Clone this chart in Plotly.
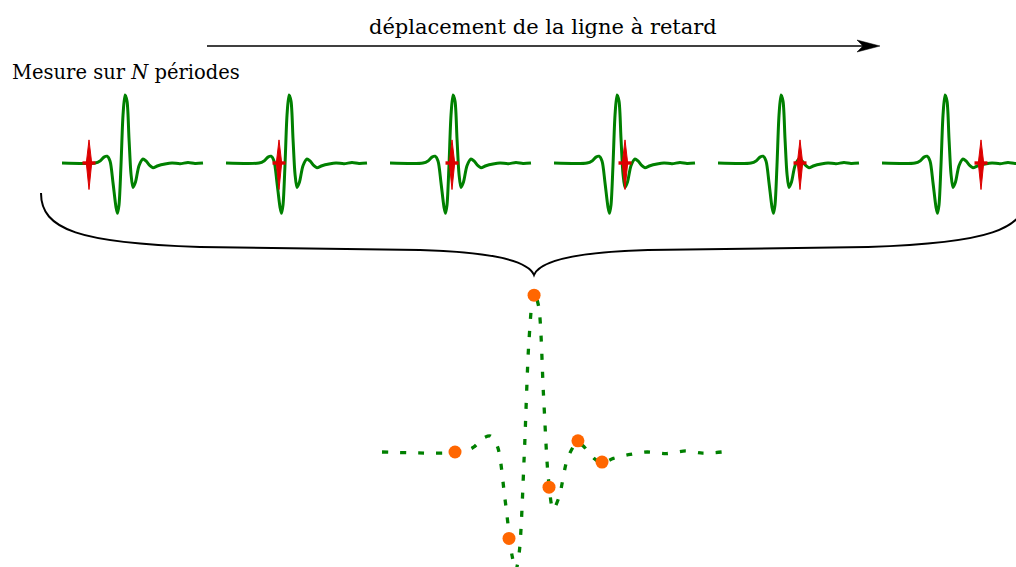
import plotly.graph_objects as go

# ---------------- data ----------------
# one recorded pulse (time in arbitrary units, normalised amplitude)
wave_t = [0.0, 3.3, 3.8, 4.2, 4.5, 4.8, 5.1, 5.4, 5.55, 5.7, 5.9, 6.1, 6.3, 6.5, 6.7,
          6.9, 7.1, 7.35, 7.7, 8.1, 8.4, 8.8, 9.1, 9.6, 10.3, 11.0, 11.8, 12.6, 13.3, 14.1]
wave_a = [0.0, 0.0, 0.03, 0.087, 0.10, 0.03, -0.29, -0.65, -0.74, -0.62, -0.03, 0.70, 1.0, 0.91, 0.36,
          -0.16, -0.36, -0.28, -0.04, 0.06, 0.03, -0.04, -0.07, -0.04, -0.015, 0.0, -0.01, 0.007, -0.007, 0.0]

n_periods = 6
period = 16.4                                     # repetition period (same units as wave_t)
sample_delay = [2.7, 5.3, 6.2, 7.1, 8.2, 9.9]      # delay of the sampling gate in each period

# reconstructed samples (orange dots)
sample_t = [3.03, 5.27, 6.31, 6.93, 8.13, 9.13]
sample_a = [0.0, -0.54, 0.98, -0.22, 0.07, -0.063]

title_text = "déplacement de la ligne à retard"
left_text = "Mesure sur <i>N</i> périodes"

# ---------------- styles / geometry ----------------
W, H = 1016, 567
GREEN = "#008000"
RED = "#dd0000"
ORANGE = "#ff6600"
FONT = "DejaVu Serif"


def px(x, y):
    return x / W, 1 - y / H


fig = go.Figure()

# top row: repeated pulses
xs, ys = [], []
for k in range(n_periods):
    xs += [k * period + t for t in wave_t] + [None]
    ys += list(wave_a) + [None]
fig.add_trace(go.Scatter(x=xs, y=ys, mode="lines",
                         line=dict(color=GREEN, width=3, shape="spline", smoothing=0.8),
                         xaxis="x", yaxis="y", hoverinfo="skip"))

# red sampling gates
for k, d in enumerate(sample_delay):
    t0 = k * period + d
    fig.add_trace(go.Scatter(x=[t0, t0 + 0.27, t0, t0 - 0.27, t0], y=[0.34, 0, -0.39, 0, 0.34],
                             mode="lines", fill="toself", fillcolor=RED, line=dict(color=RED, width=1),
                             xaxis="x", yaxis="y", hoverinfo="skip"))
    fig.add_trace(go.Scatter(x=[t0 - 0.65, t0 + 0.65], y=[0, 0], mode="lines",
                             line=dict(color=RED, width=3.4), xaxis="x", yaxis="y", hoverinfo="skip"))

# bottom: reconstructed pulse (dotted) and samples
fig.add_trace(go.Scatter(x=wave_t, y=wave_a, mode="lines",
                         line=dict(color=GREEN, width=3.3, shape="spline", smoothing=0.8, dash="6px,12px"),
                         xaxis="x2", yaxis="y2", hoverinfo="skip"))
fig.add_trace(go.Scatter(x=sample_t, y=sample_a, mode="markers",
                         marker=dict(color=ORANGE, size=13, line=dict(width=0)),
                         xaxis="x2", yaxis="y2", hoverinfo="skip"))

# axes (hidden) — top row: 10 px per unit, start at 62 px, baseline 163 px, 68 px per amplitude
ax_common = dict(visible=False, showgrid=False, zeroline=False, fixedrange=True)
top_x0, top_sx, top_y0, top_sy = 62, 10.0, 163, 68.0
bot_x0, bot_sx, bot_y0, bot_sy = 382, 24.1, 452, 160.0
fig.update_layout(
    xaxis=dict(domain=[0, 1], range=[-top_x0 / top_sx, (W - top_x0) / top_sx], **ax_common),
    yaxis=dict(domain=[0, 1], range=[(top_y0 - H) / top_sy, top_y0 / top_sy], **ax_common),
    xaxis2=dict(domain=[0, 1], range=[-bot_x0 / bot_sx, (W - bot_x0) / bot_sx], overlaying="x", **ax_common),
    yaxis2=dict(domain=[0, 1], range=[(bot_y0 - H) / bot_sy, bot_y0 / bot_sy], overlaying="y", **ax_common),
)

# brace
brace_pts = [("M", [(41, 193)]), ("C", [(41, 230), (80, 243), (200, 247)]), ("L", [(420, 250)]),
             ("C", [(490, 252), (528, 260), (534, 275)]), ("C", [(540, 260), (578, 252), (648, 250)]),
             ("L", [(868, 247)]), ("C", [(988, 243), (1027, 230), (1027, 193)])]
path = ""
for cmd, pts in brace_pts:
    path += cmd + " " + " ".join("%.5f,%.5f" % px(x, y) for x, y in pts) + " "
fig.add_shape(type="path", path=path, xref="paper", yref="paper", line=dict(color="black", width=2))

# arrow
ax0, ay0 = px(207, 46)
ax1, _ = px(864, 46)
fig.add_shape(type="line", x0=ax0, y0=ay0, x1=ax1, y1=ay0, xref="paper", yref="paper",
              line=dict(color="black", width=1.4))
head = [(857, 40), (880, 46), (857, 52), (863, 46)]
hp = "M " + " L ".join("%.5f,%.5f" % px(x, y) for x, y in head) + " Z"
fig.add_shape(type="path", path=hp, xref="paper", yref="paper", fillcolor="black",
              line=dict(color="black", width=0.5))

# texts
tx, ty = px(543, 27)
fig.add_annotation(x=tx, y=ty, xref="paper", yref="paper", text=title_text, showarrow=False,
                   xanchor="center", yanchor="middle", font=dict(family=FONT, size=21, color="black"))
lx, ly = px(10, 73)
fig.add_annotation(x=lx, y=ly, xref="paper", yref="paper", text=left_text, showarrow=False,
                   xanchor="left", yanchor="middle", font=dict(family=FONT, size=19.5, color="black"))

fig.update_layout(width=W, height=H, margin=dict(l=0, r=0, t=0, b=0), showlegend=False,
                  paper_bgcolor="white", plot_bgcolor="white")

fig.write_html("out.html", config={"displayModeBar": False},
               post_script="document.body.style.margin='0';document.body.style.padding='0';")
